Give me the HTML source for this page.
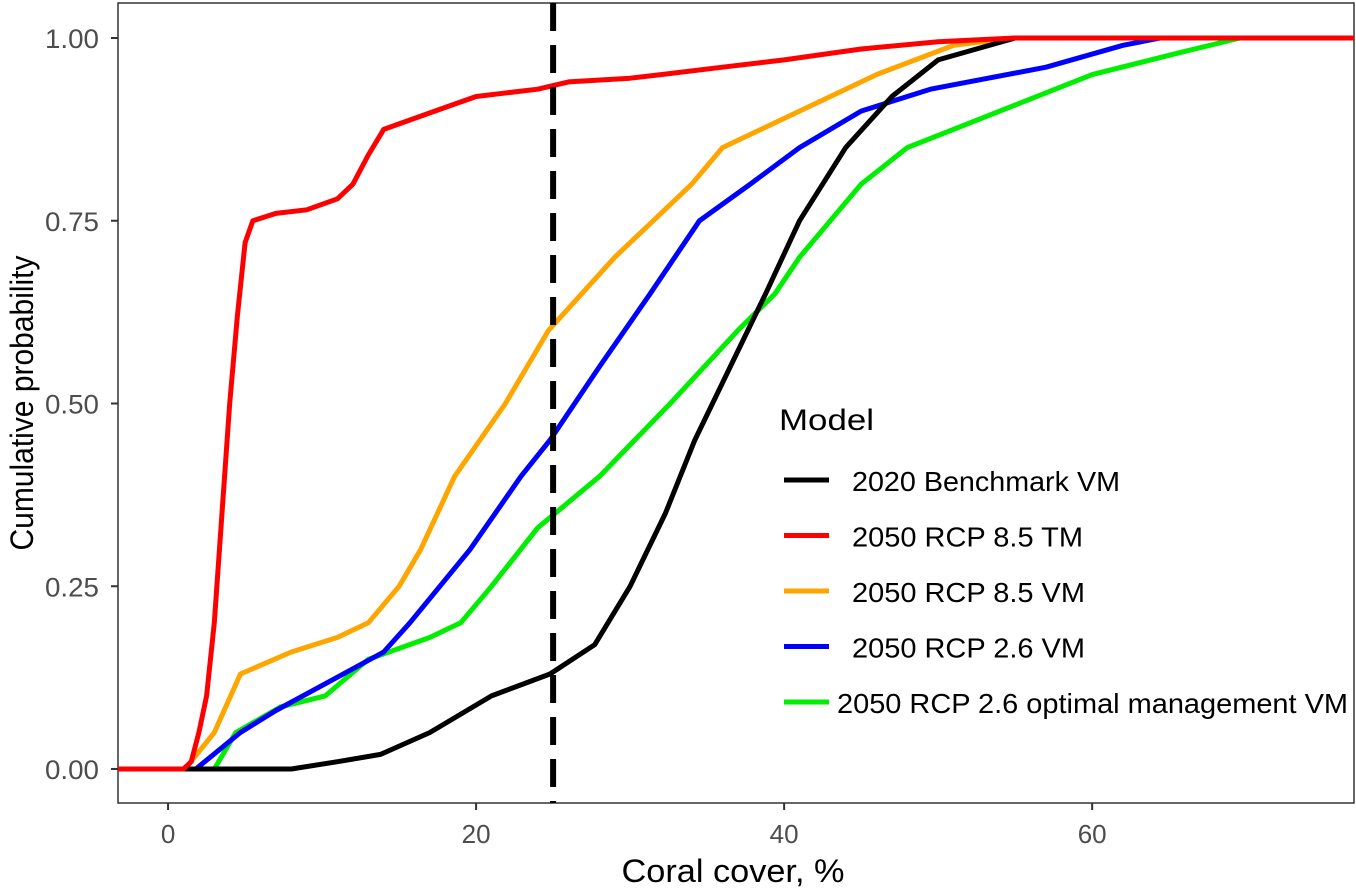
<!DOCTYPE html>
<html><head><meta charset="utf-8"><style>
body{margin:0;background:#fff}
svg text{font-family:"Liberation Sans",sans-serif}
</style></head><body>
<svg id="chart" width="1356" height="891">
<rect x="118" y="3" width="1236" height="800" fill="#fff" stroke="#333" stroke-width="1.5"/>
<g id="axes"></g>
<g id="lines"></g>
<text x="733" y="882" font-size="32" text-anchor="middle" textLength="223" lengthAdjust="spacingAndGlyphs" fill="#000">Coral cover, %</text>
<text transform="translate(33,403) rotate(-90)" font-size="32" text-anchor="middle" textLength="295" lengthAdjust="spacingAndGlyphs" fill="#000">Cumulative probability</text>
<g id="legend">
<text x="779" y="430" font-size="30" textLength="95" lengthAdjust="spacingAndGlyphs" fill="#000">Model</text>
</g>
</svg>
<script>
const xTicks=[0,20,40,60];
const yTicks=[0,0.25,0.5,0.75,1];
const yTickLabels=["0.00","0.25","0.50","0.75","1.00"];
const seriesNames=["2020 Benchmark VM","2050 RCP 8.5 TM","2050 RCP 8.5 VM","2050 RCP 2.6 VM","2050 RCP 2.6 optimal management VM"];
const seriesColors=["#000000","#ff0000","#ffa500","#0000ff","#00ee00"];
const blackX=[-4,8,11,13.8,17,21,24.8,27.7,30,32.3,34.2,36.5,38.8,41,44,47,50,55,80];
const blackY=[0,0,0.01,0.02,0.05,0.1,0.13,0.17,0.25,0.35,0.45,0.55,0.65,0.75,0.85,0.92,0.97,1,1];
const redX=[-4,1,1.5,2,2.5,3,3.5,4,4.5,5,5.5,7,9,11,12,13,14,16,18,20,22,24,26,30,32,36,40,45,50,55,80];
const redY=[0,0,0.01,0.05,0.1,0.2,0.35,0.5,0.62,0.72,0.75,0.76,0.765,0.78,0.8,0.84,0.875,0.89,0.905,0.92,0.925,0.93,0.94,0.945,0.95,0.96,0.97,0.985,0.995,1,1];
const orangeX=[-4,1.1,3,4.7,8,11,13,15,16.4,18.6,21.9,24.7,29,34,36,41,46,51,55,80];
const orangeY=[0,0,0.05,0.13,0.16,0.18,0.2,0.25,0.3,0.4,0.5,0.6,0.7,0.8,0.85,0.9,0.95,0.99,1,1];
const blueX=[-4,1.8,4.7,7,10.5,14,15.7,19.6,22.9,24.8,28,31.3,34.5,37.8,41,45,49.5,57,62,64.4,80];
const blueY=[0,0,0.05,0.08,0.12,0.16,0.2,0.3,0.4,0.45,0.55,0.65,0.75,0.8,0.85,0.9,0.93,0.96,0.99,1,1];
const greenX=[-4,3,4.4,7.3,10.2,13,17,19,21,24,28,32.6,37,39.4,41,45,48,54,60,65.7,69.6,80];
const greenY=[0,0,0.05,0.085,0.1,0.15,0.18,0.2,0.25,0.33,0.4,0.5,0.6,0.65,0.7,0.8,0.85,0.9,0.95,0.98,1,1];
const refLine=25;
const NS="http://www.w3.org/2000/svg";
const x0=-3.25,x1=77.0,px0=118,px1=1354;
const sx=v=>px0+(v-x0)/(x1-x0)*(px1-px0);
const sy=v=>769-v*731;
const cx=v=>Math.max(x0,Math.min(x1,v));
function mk(t,a,p){const e=document.createElementNS(NS,t);for(const k in a)e.setAttribute(k,a[k]);p.appendChild(e);return e;}
const axes=document.getElementById('axes');
xTicks.forEach(t=>{
 const l=mk('line',{x1:sx(t),x2:sx(t),y1:803,y2:810,stroke:'#333','stroke-width':2},axes);
 
 
 const tx=mk('text',{x:sx(t),y:843,'font-size':26,'text-anchor':'middle',fill:'#4d4d4d'},axes);
 tx.textContent=t;
 
 
});
yTicks.forEach((t,i)=>{
 const l=mk('line',{x1:111,x2:118,y1:sy(t),y2:sy(t),stroke:'#333','stroke-width':2},axes);
 
 
 const tx=mk('text',{x:99,y:sy(t)+10,'font-size':27,'text-anchor':'end',textLength:54,lengthAdjust:'spacingAndGlyphs',fill:'#4d4d4d'},axes);
 tx.textContent=yTickLabels[i];
 
 
});
const lines=document.getElementById('lines');
const xs=[blackX,redX,orangeX,blueX,greenX],ys=[blackY,redY,orangeY,blueY,greenY];
const order=[4,3,2,0,1];
order.forEach(i=>{
 const d=xs[i].map((v,j)=>(j?'L':'M')+sx(cx(v)).toFixed(1)+','+sy(ys[i][j]).toFixed(1)).join('');
 const p=mk('path',{d:d,fill:'none',stroke:seriesColors[i],'stroke-width':5,'stroke-linejoin':'round'},lines);
 
 
});
const rl=mk('line',{x1:sx(refLine),x2:sx(refLine),y1:3,y2:803,stroke:'#000','stroke-width':6,'stroke-dasharray':'28,14'},lines);


const lg=document.getElementById('legend');
const legTextX=[852,852,852,852,837];
const legTextW=[268,231,233,233,511];
seriesNames.forEach((n,i)=>{
 const y=480+i*55.5;
 const l=mk('line',{x1:784,x2:829,y1:y,y2:y,stroke:seriesColors[i],'stroke-width':5},lg);
 
 
 const t=mk('text',{x:legTextX[i],y:y+11,'font-size':28,textLength:legTextW[i],lengthAdjust:'spacingAndGlyphs',fill:'#000'},lg);
 t.textContent=n;
 
 
});
</script>
</body></html>
